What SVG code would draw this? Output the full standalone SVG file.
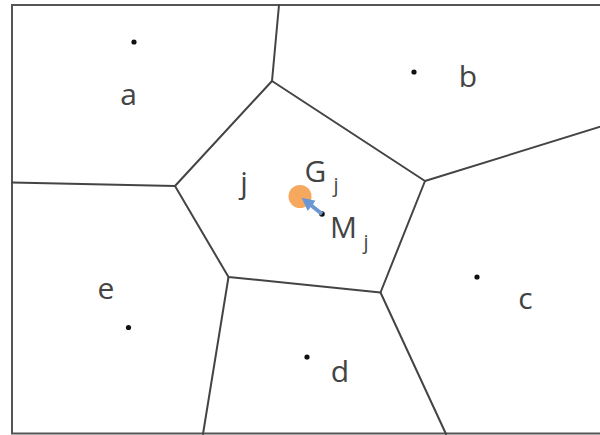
<svg xmlns="http://www.w3.org/2000/svg" width="600" height="435" viewBox="0 0 600 435">
<style>
.edge{fill:none;stroke:#444;stroke-width:2;stroke-linejoin:round;stroke-linecap:round}
.frame{fill:none;stroke:#555;stroke-width:2}
.lbl{font-family:"Open Sans","Liberation Sans",sans-serif;font-size:30px;fill:#444;text-anchor:middle}
.sub{font-family:"Open Sans","Liberation Sans",sans-serif;font-size:20px;fill:#444;text-anchor:middle}
.dot{fill:#111}
</style>
<defs>
<marker id="ah" markerUnits="userSpaceOnUse" markerWidth="14" markerHeight="14" refX="1" refY="7" orient="auto">
<path d="M0,0.5 L13,7 L0,13.5 Z" fill="#6A97D3"/>
</marker>
</defs>
<rect width="600" height="435" fill="#fff"/>
<g id="frame">
<path class="frame" d="M601,5 H12 V433.5 H601"/>
</g>
<g id="node-a">
<circle class="dot" cx="134" cy="42" r="2.6"/>
<text class="lbl" x="128.5" y="105">a</text>
</g>
<g id="node-b">
<circle class="dot" cx="414" cy="72" r="2.6"/>
<text class="lbl" x="468" y="87">b</text>
</g>
<g id="node-c">
<circle class="dot" cx="477" cy="277" r="2.6"/>
<text class="lbl" x="525.5" y="309">c</text>
</g>
<g id="node-d">
<circle class="dot" cx="307" cy="357" r="2.6"/>
<text class="lbl" x="340" y="382">d</text>
</g>
<g id="node-e">
<circle class="dot" cx="128.5" cy="327.5" r="2.6"/>
<text class="lbl" x="106" y="299">e</text>
</g>
<g id="node-j">
<text class="lbl" x="244" y="193">j</text>
<circle cx="300" cy="196.5" r="11.5" fill="#F6A95E"/>
<circle class="dot" cx="322" cy="214" r="2.8"/>
<text class="lbl" x="315.5" y="182">G</text>
<text class="sub" x="336" y="192">j</text>
<text class="lbl" x="343.5" y="238">M</text>
<text class="sub" x="366" y="249">j</text>
</g>
<g id="connectors">
<path class="edge" d="M272,81 L425,181 L380.5,292.5 L228.5,277 L175,186 Z"/>
<path class="edge" d="M279,5 L272,81"/>
<path class="edge" d="M425,181 L601,126.5"/>
<path class="edge" d="M175,186 L12,182.5"/>
<path class="edge" d="M228.5,277 L203,434"/>
<path class="edge" d="M380.5,292.5 L446,434"/>
<path d="M322,214 L311,205.2" stroke="#6A97D3" stroke-width="4" fill="none" marker-end="url(#ah)"/>
</g>
</svg>
